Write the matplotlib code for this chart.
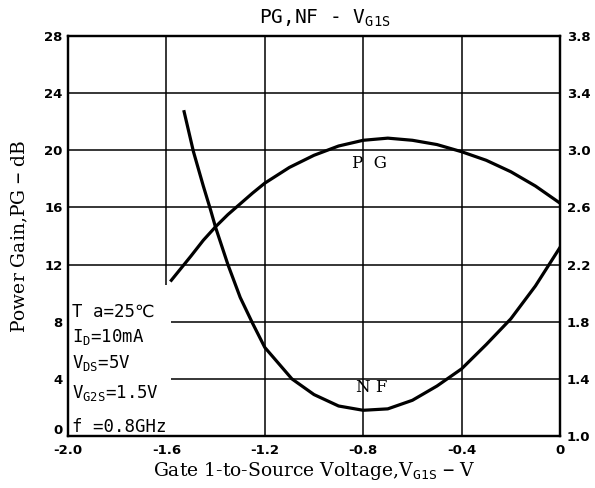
import numpy as np
import matplotlib
matplotlib.use("Agg")
import matplotlib.pyplot as plt
from matplotlib.patches import Rectangle
from matplotlib.transforms import ScaledTranslation

# donnees
vg1s_pg = [-1.58, -1.5, -1.45, -1.40, -1.35, -1.3, -1.25, -1.2, -1.1, -1.0,
           -0.9, -0.8, -0.7, -0.6, -0.5, -0.4, -0.3, -0.2, -0.1, 0.0]
pg = [10.9, 12.6, 13.7, 14.65, 15.5, 16.25, 17.0, 17.7, 18.8, 19.65,
      20.3, 20.7, 20.85, 20.7, 20.4, 19.9, 19.3, 18.5, 17.5, 16.3]

vg1s_nf = [-1.528, -1.49, -1.45, -1.42, -1.40, -1.35, -1.30, -1.25, -1.20, -1.14,
           -1.09, -1.0, -0.9, -0.8, -0.7, -0.6, -0.5, -0.4, -0.3, -0.2, -0.1, 0.0]
nf = [3.27, 2.99, 2.75, 2.58, 2.46, 2.2, 1.97, 1.79, 1.62, 1.5,
      1.40, 1.29, 1.21, 1.18, 1.19, 1.25, 1.35, 1.47, 1.64, 1.82, 2.05, 2.32]

x_ticks = [-2.0, -1.6, -1.2, -0.8, -0.4, 0.0]
x_labels = ["-2.0", "-1.6", "-1.2", "-0.8", "-0.4", "0"]
pg_ticks = [0, 4, 8, 12, 16, 20, 24, 28]
nf_ticks = [1.0, 1.4, 1.8, 2.2, 2.6, 3.0, 3.4, 3.8]

conditions = ["T a=25℃", r"I$_{\mathrm{D}}$=10mA", r"V$_{\mathrm{DS}}$=5V",
              r"V$_{\mathrm{G2S}}$=1.5V", "f =0.8GHz"]
cond_y = [8.68, 6.93, 5.1, 3.0, 0.63]

plt.rcParams['mathtext.fontset'] = 'custom'
plt.rcParams['mathtext.rm'] = 'DejaVu Sans Mono'

fig = plt.figure(figsize=(5.95, 4.88), dpi=100)
ax = fig.add_axes([68/595, 1 - 436/488, 492/595, 400/488])
ax2 = ax.twinx()

ax.set_xlim(-2.0, 0.0)
ax.set_ylim(0, 28)
ax2.set_ylim(1.0, 3.8)

# grille
for xv in x_ticks[1:-1]:
    ax.axvline(xv, color='black', lw=1.1, zorder=1)
for yv in pg_ticks[1:-1]:
    ax.axhline(yv, color='black', lw=1.1, zorder=1)

# zone blanche sous le bloc de conditions
ax.add_patch(Rectangle((-2.0, 0), 0.42, 10.6, facecolor='white',
                       edgecolor='none', zorder=2))

ax.plot(vg1s_pg, pg, color='black', lw=2.3, zorder=3)
ax2.plot(vg1s_nf, nf, color='black', lw=2.3, zorder=3)

ax.set_xticks(x_ticks)
ax.set_xticklabels(x_labels, fontweight='bold', fontsize=9.5)
ax.set_yticks(pg_ticks)
ax.set_yticklabels([str(v) for v in pg_ticks], fontweight='bold', fontsize=9.5)
ax2.set_yticks(nf_ticks)
ax2.set_yticklabels(["%.1f" % v for v in nf_ticks], fontweight='bold', fontsize=9.5)
ax.tick_params(axis='x', length=0, pad=6)
ax.tick_params(axis='y', length=0, pad=4)
ax2.tick_params(length=0, pad=5)

# le "0" de gauche est un peu au-dessus de l'axe
lab0 = ax.get_yticklabels()[0]
lab0.set_transform(lab0.get_transform() + ScaledTranslation(0, 7/100, fig.dpi_scale_trans))

for a in (ax, ax2):
    for s in a.spines.values():
        s.set_linewidth(1.6)
        s.set_zorder(6)

ax.set_xlabel(r"Gate 1-to-Source Voltage,V$_{\mathrm{G1S}}$ $-$ V",
              family='DejaVu Serif', fontsize=13.5, labelpad=2)
ax.set_ylabel(r"Power Gain,PG $-$ dB", family='DejaVu Serif',
              fontsize=13.5, labelpad=10)
fig.text(0.546, 0.963, r"PG,NF - V$_{\mathrm{G1S}}$", family='DejaVu Sans Mono',
         fontsize=14, ha='center', va='center')

ax.text(-0.776, 19.1, "P  G", family='DejaVu Serif', fontsize=12,
        ha='center', va='center', zorder=4)
ax.text(-0.764, 3.36, "N F", family='DejaVu Serif', fontsize=12,
        ha='center', va='center', zorder=4)

for txt, yy in zip(conditions, cond_y):
    ax.text(-1.985, yy, txt, family=['DejaVu Sans Mono', 'DejaVu Sans'],
            fontsize=12.5, ha='left', va='center', zorder=5,
            bbox=dict(facecolor='white', edgecolor='none', pad=1.5))

fig.savefig("out.png", dpi=100)
